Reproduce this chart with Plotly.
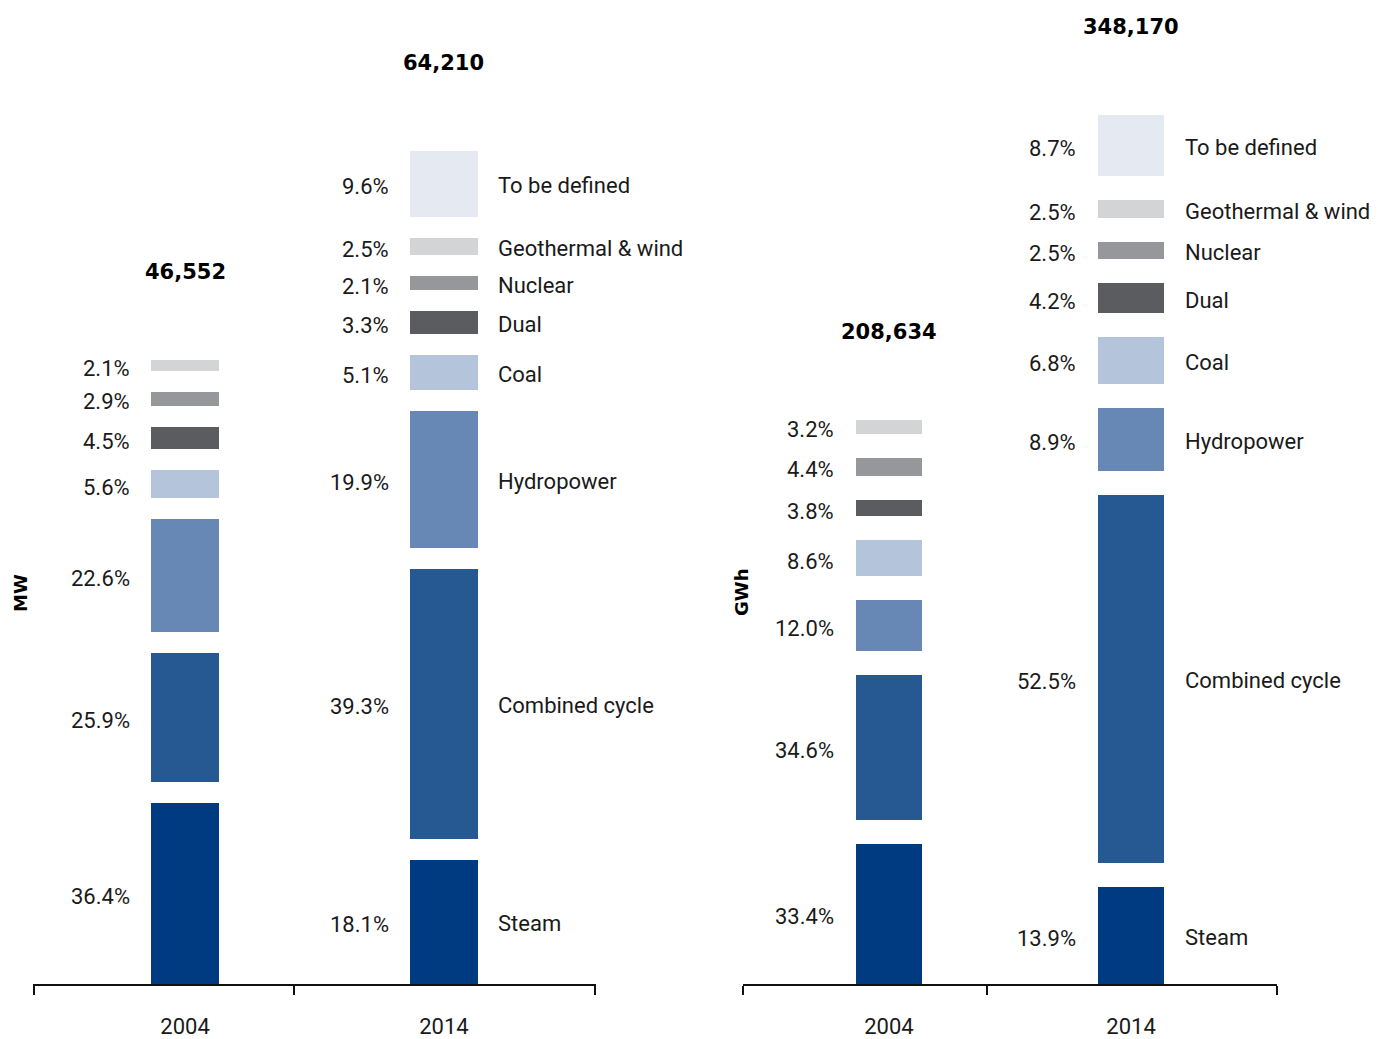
import plotly.graph_objects as go

# ---------------- data ----------------
categories = ["Steam", "Combined cycle", "Hydropower", "Coal", "Dual",
              "Nuclear", "Geothermal & wind", "To be defined"]
years = ["2004", "2014"]

mw_totals = [46552, 64210]
mw_2004_pct = [36.4, 25.9, 22.6, 5.6, 4.5, 2.9, 2.1, None]
mw_2014_pct = [18.1, 39.3, 19.9, 5.1, 3.3, 2.1, 2.5, 9.6]

gwh_totals = [208634, 348170]
gwh_2004_pct = [33.4, 34.6, 12.0, 8.6, 3.8, 4.4, 3.2, None]
gwh_2014_pct = [13.9, 52.5, 8.9, 6.8, 4.2, 2.5, 2.5, 8.7]

colors = ["#003A80", "#265892", "#6788B4", "#B4C4DA", "#5B5C5F",
          "#96979B", "#D3D4D6", "#E5EAF2"]

# ---------------- style ----------------
FONT = "Roboto"
BOLD = "DejaVu Sans"
TXT = "#1a1a1a"
W, H = 1399, 1039
PLOT_H = 984  # pixel height of plotting area

panels = [
    dict(name="MW", totals=mw_totals, pcts=[mw_2004_pct, mw_2014_pct],
         xa="x", ya="y", px_per_unit=93.5, gap_px=21, width=0.263,
         domain=[33 / W, 596 / W], xrange=[-0.587, 1.587], split=0.42,
         title_x=20 / W),
    dict(name="GWh", totals=gwh_totals, pcts=[gwh_2004_pct, gwh_2014_pct],
         xa="x2", ya="y2", px_per_unit=497, gap_px=24, width=0.272,
         domain=[743 / W, 1277 / W], xrange=[-0.603, 1.603], split=0.405,
         title_x=741 / W),
]

fig = go.Figure()
annotations = []

for p in panels:
    gap = p["gap_px"] * p["px_per_unit"]
    bases = {k: [None, None] for k in range(len(categories))}
    vals = {k: [None, None] for k in range(len(categories))}
    for i, pct_list in enumerate(p["pcts"]):
        total = p["totals"][i]
        base = 0.0
        top = 0.0
        for k, pct in enumerate(pct_list):
            if pct is None:
                continue
            v = pct / 100.0 * total
            bases[k][i] = base
            vals[k][i] = v
            mid = base + v / 2
            annotations.append(dict(
                x=i, y=mid, xref=p["xa"], yref=p["ya"], text=f"{pct:.1f}%",
                showarrow=False, xanchor="right", yanchor="middle",
                xshift=-53, yshift=-3,
                font=dict(family=FONT, size=22, color=TXT)))
            if i == 1:
                annotations.append(dict(
                    x=i, y=mid, xref=p["xa"], yref=p["ya"], text=categories[k],
                    showarrow=False, xanchor="left", yanchor="middle",
                    xshift=52, yshift=-2,
                    font=dict(family=FONT, size=22, color=TXT)))
            top = base + v
            base = top + gap
        annotations.append(dict(
            x=i, y=top, xref=p["xa"], yref=p["ya"], text=f"<b>{total:,}</b>",
            showarrow=False, xanchor="center", yanchor="bottom", yshift=74,
            font=dict(family=BOLD, size=21, color="#000")))

    for k, cat in enumerate(categories):
        fig.add_trace(go.Bar(
            x=[0, 1], y=vals[k], base=bases[k], name=cat,
            marker=dict(color=colors[k], line=dict(width=0)),
            width=p["width"], xaxis=p["xa"], yaxis=p["ya"],
            showlegend=False, hoverinfo="skip"))

    annotations.append(dict(
        x=p["title_x"], y=1 - 593 / PLOT_H,
        xref="paper", yref="paper", text=f"<b>{p['name']}</b>",
        showarrow=False, textangle=-90, xanchor="center", yanchor="middle",
        font=dict(family=BOLD, size=18, color="#000")))

def xaxis_cfg(p):
    return dict(
        domain=p["domain"], range=p["xrange"], tickmode="array",
        tickvals=[0, 1], ticktext=years, ticks="", showgrid=False,
        zeroline=False, showline=True, linecolor="#111", linewidth=2,
        ticklabelstandoff=22,
        tickfont=dict(family=FONT, size=22, color=TXT),
        minor=dict(tickmode="array",
                   tickvals=[p["xrange"][0] + 0.002, p["split"], p["xrange"][1] - 0.002],
                   ticks="outside", ticklen=9, tickwidth=2, tickcolor="#111",
                   showgrid=False),
        fixedrange=True)

def yaxis_cfg(p, anchor):
    return dict(range=[0, PLOT_H * p["px_per_unit"]], visible=False,
                anchor=anchor, domain=[0, 1], fixedrange=True)

fig.update_layout(
    width=W, height=H,
    margin=dict(l=0, r=0, t=0, b=H - PLOT_H),
    paper_bgcolor="white", plot_bgcolor="white",
    barmode="overlay", bargap=0,
    xaxis=dict(**xaxis_cfg(panels[0]), anchor="y"),
    yaxis=yaxis_cfg(panels[0], "x"),
    xaxis2=dict(**xaxis_cfg(panels[1]), anchor="y2"),
    yaxis2=yaxis_cfg(panels[1], "x2"),
    annotations=annotations,
    showlegend=False,
)

fig.write_html(
    "out.html",
    config={"displayModeBar": False},
    post_script="document.body.style.margin='0';document.body.style.overflow='hidden';",
)
